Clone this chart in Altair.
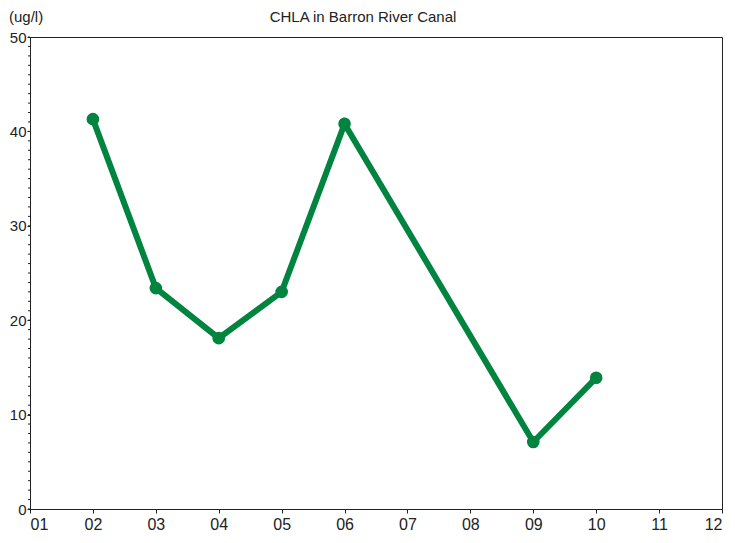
import altair as alt
import pandas as pd

months = [2, 3, 4, 5, 6, 9, 10]
values = [41.3, 23.4, 18.1, 23.0, 40.8, 7.1, 13.9]
title_text = "CHLA in Barron River Canal"
unit_text = "(ug/l)"
minor_ticks = list(range(0, 51))

df = pd.DataFrame({"month": months, "value": values})
GREEN = "#00843f"
FONT = "Liberation Sans"
INK = "#222222"

yscale = alt.Scale(domain=[0, 50], nice=False)
x = alt.X("month:Q", scale=alt.Scale(domain=[1, 12], nice=False),
          axis=alt.Axis(values=list(range(1, 13)), title=None,
                        labelExpr="datum.value < 10 ? '0' + datum.value : '' + datum.value",
                        tickSize=4, labelFontSize=16, labelFont=FONT, labelColor=INK,
                        domainColor=INK, tickColor=INK, grid=False, labelPadding=3))
yaxis = alt.Axis(values=[0, 10, 20, 30, 40, 50], title=None, tickSize=3,
                 labelFontSize=15, labelFont=FONT, labelColor=INK,
                 domainColor=INK, tickColor=INK, grid=False, labelPadding=1)
y = alt.Y("value:Q", scale=yscale, axis=yaxis)

line = alt.Chart(df).mark_line(color=GREEN, strokeWidth=6).encode(x=x, y=y)
pts = alt.Chart(df).mark_point(filled=True, opacity=1, color=GREEN, size=160, shape="circle").encode(x=x, y=y)
minor = alt.Chart(pd.DataFrame({"value": minor_ticks})).mark_rule(color=INK, strokeWidth=1).encode(
    y=alt.Y("value:Q", scale=yscale, axis=yaxis), x=alt.value(-2), x2=alt.value(0))

title = alt.Chart(pd.DataFrame({"t": [title_text]})).mark_text(
    font=FONT, fontSize=15, color=INK, align="center", baseline="alphabetic"
).encode(text="t:N", x=alt.value(333), y=alt.value(-15))
unit = alt.Chart(pd.DataFrame({"t": [unit_text]})).mark_text(
    font=FONT, fontSize=15, color=INK, align="left", baseline="alphabetic"
).encode(text="t:N", x=alt.value(-21), y=alt.value(-15))

chart = alt.layer(line, pts, minor, title, unit).properties(
    width=692, height=472,
    autosize=alt.AutoSizeParams(type="none"),
    padding={"left": 22, "top": 29, "right": 5, "bottom": 30},
    background="white",
).configure_view(stroke=INK, strokeWidth=1)

chart.save("out.html", embed_options={"renderer": "svg", "actions": False})
